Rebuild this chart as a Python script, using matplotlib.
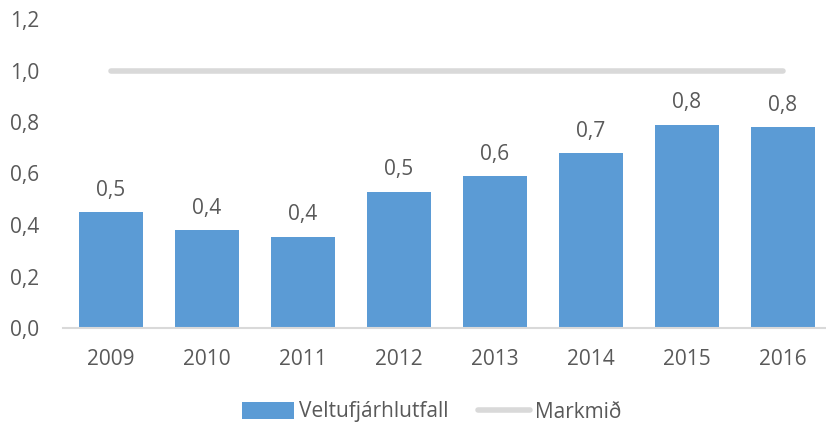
import matplotlib.pyplot as plt
from matplotlib.lines import Line2D
from matplotlib.patches import Patch

years = ['2009', '2010', '2011', '2012', '2013', '2014', '2015', '2016']
veltufjarhlutfall = [0.45, 0.38, 0.355, 0.53, 0.59, 0.68, 0.79, 0.78]
markmid = [1.0] * len(years)
yticks = [0.0, 0.2, 0.4, 0.6, 0.8, 1.0, 1.2]

bar_color = '#5B9BD5'
line_color = '#D9D9D9'
text_color = '#595959'

plt.rcParams['font.family'] = ['Open Sans', 'DejaVu Sans']

fig = plt.figure(figsize=(8.26, 4.25), dpi=100)
W, H = 826, 425
# axes in pixel coords: left 63, right 831 (runs past edge), top 19, bottom 328
ax = fig.add_axes([63 / W, (H - 328) / H, (831 - 63) / W, (328 - 19) / H])

x = list(range(len(years)))
ax.bar(x, veltufjarhlutfall, width=0.665, color=bar_color, zorder=2)
ax.plot(x, markmid, color=line_color, linewidth=4, solid_capstyle='round', zorder=3)

for xi, v in zip(x, veltufjarhlutfall):
    ax.annotate(f'{v:.1f}'.replace('.', ','), (xi, v), xytext=(0, 8),
                textcoords='offset points', ha='center', va='bottom',
                fontsize=15, color=text_color)

ax.set_xlim(-0.5, len(years) - 0.5)
ax.set_ylim(0, 1.2)
ax.set_xticks(x)
ax.set_xticklabels(years)
ax.set_yticks(yticks)
ax.set_yticklabels([f'{t:.1f}'.replace('.', ',') for t in yticks])
ax.tick_params(axis='both', length=0, labelsize=15, colors=text_color)
ax.tick_params(axis='y', pad=17)
ax.tick_params(axis='x', pad=15)

for s in ['top', 'right', 'left']:
    ax.spines[s].set_visible(False)
ax.spines['bottom'].set_color(line_color)
ax.spines['bottom'].set_linewidth(1.5)

handles = [Patch(facecolor=bar_color, label='Veltufjárhlutfall'),
           Line2D([0], [0], color=line_color, linewidth=4, solid_capstyle='round', label='Markmið')]
fig.legend(handles=handles, loc='center', bbox_to_anchor=(432 / W, (H - 412) / H),
           ncol=2, frameon=False, fontsize=15, labelcolor=text_color,
           handlelength=2.5, handleheight=0.9, handletextpad=0.25, columnspacing=1.4)

fig.savefig('out.png', dpi=100)
